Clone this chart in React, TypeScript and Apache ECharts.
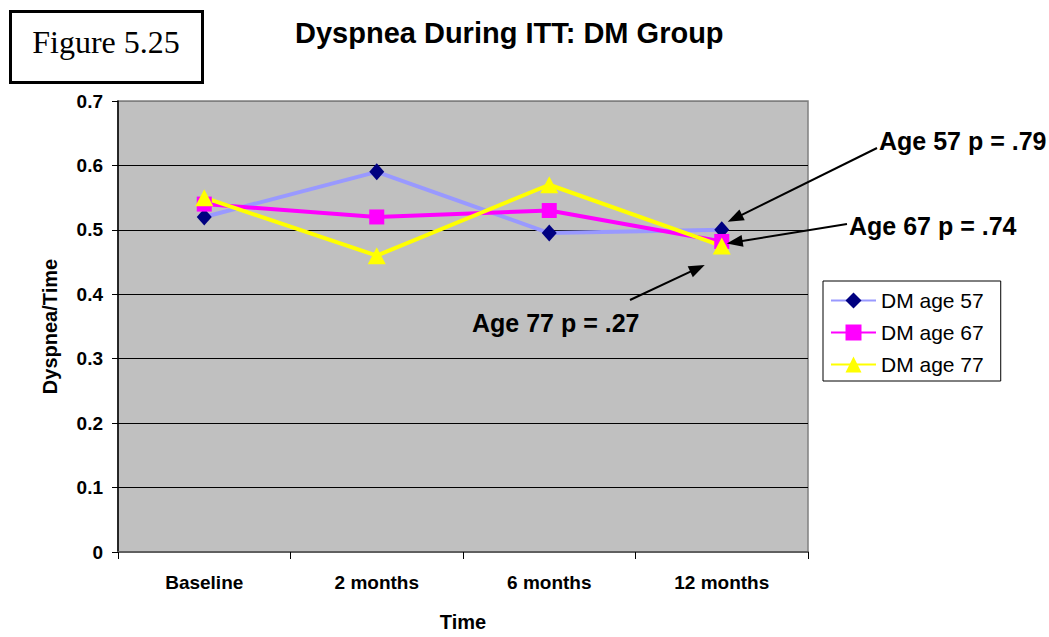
import React, { useEffect, useRef } from "react";
import * as echarts from "echarts";

const categories = ["Baseline", "2 months", "6 months", "12 months"];
const age57Values = [0.52, 0.59, 0.495, 0.5];
const age67Values = [0.54, 0.52, 0.53, 0.482];
const age77Values = [0.55, 0.46, 0.57, 0.475];
const seriesNames = ["DM age 57", "DM age 67", "DM age 77"];
const pValueLabels = ["Age 57 p = .79", "Age 67 p = .74", "Age 77 p = .27"];
const titleText = "Dyspnea During ITT: DM Group";
const figureLabel = "Figure 5.25";
const yAxisName = "Dyspnea/Time";
const xAxisName = "Time";
const yMin = 0;
const yMax = 0.7;
const yInterval = 0.1;

const SANS = "'Liberation Sans', Arial, sans-serif";
const SERIF = "'Liberation Serif', 'Times New Roman', serif";

function arrow(x1: number, y1: number, x2: number, y2: number) {
  const dx = x2 - x1;
  const dy = y2 - y1;
  const len = Math.hypot(dx, dy);
  const ux = dx / len;
  const uy = dy / len;
  const hl = 16;
  const hw = 6;
  const bx = x2 - ux * hl;
  const by = y2 - uy * hl;
  return [
    {
      type: "line",
      z: 100,
      shape: { x1, y1, x2: bx + ux * 2, y2: by + uy * 2 },
      style: { stroke: "#000", lineWidth: 2 },
    },
    {
      type: "polygon",
      z: 100,
      shape: {
        points: [
          [x2, y2],
          [bx - uy * hw, by + ux * hw],
          [bx + uy * hw, by - ux * hw],
        ],
      },
      style: { fill: "#000" },
    },
  ];
}

export default function App() {
  const ref = useRef<HTMLDivElement>(null);

  useEffect(() => {
    if (!ref.current) return;
    const chart = echarts.init(ref.current, null, { renderer: "svg" });

    const option: any = {
      animation: false,
      backgroundColor: "#ffffff",
      title: {
        text: titleText,
        left: 295,
        top: 18,
        padding: 0,
        textStyle: { fontFamily: SANS, fontSize: 29, fontWeight: "bold", color: "#000" },
      },
      grid: {
        left: 118,
        right: 241,
        top: 101,
        bottom: 79,
        show: true,
        backgroundColor: "#C0C0C0",
        borderColor: "#808080",
        borderWidth: 1.5,
        containLabel: false,
      },
      legend: {
        orient: "vertical",
        left: 823,
        top: 281,
        padding: [9, 17, 6, 7],
        itemGap: 11,
        itemWidth: 45,
        itemHeight: 20,
        backgroundColor: "#fff",
        borderColor: "#000",
        borderWidth: 1,
        borderRadius: 0,
        textStyle: { fontFamily: SANS, fontSize: 21, color: "#000" },
        data: seriesNames,
      },
      xAxis: {
        type: "category",
        data: categories,
        boundaryGap: true,
        name: xAxisName,
        nameLocation: "middle",
        nameGap: 60,
        nameTextStyle: { fontFamily: SANS, fontSize: 20, fontWeight: "bold", color: "#000" },
        axisLine: { lineStyle: { color: "#606060", width: 2 } },
        axisTick: { show: true, interval: 0, length: 7, lineStyle: { color: "#000", width: 1 } },
        axisLabel: { interval: 0, margin: 21, fontFamily: SANS, fontSize: 19, fontWeight: "bold", color: "#000" },
        splitLine: { show: false },
      },
      yAxis: {
        type: "value",
        min: yMin,
        max: yMax,
        interval: yInterval,
        name: yAxisName,
        nameLocation: "middle",
        nameGap: 58,
        nameTextStyle: { fontFamily: SANS, fontSize: 20, fontWeight: "bold", color: "#000" },
        axisLine: { show: true, lineStyle: { color: "#000", width: 1.5 } },
        axisTick: { show: true, length: 6, lineStyle: { color: "#000", width: 1 } },
        axisLabel: { margin: 15, fontFamily: SANS, fontSize: 19, fontWeight: "bold", color: "#000" },
        splitLine: {
          show: true,
          lineStyle: {
            color: ["#000", "#000", "#000", "#000", "#000", "#000", "#000", "#808080"],
            width: 1.2,
          },
        },
      },
      series: [
        {
          name: seriesNames[0],
          type: "line",
          data: age57Values,
          symbol: "diamond",
          symbolSize: [15, 17],
          lineStyle: { color: "#9999FF", width: 4 },
          itemStyle: { color: "#000080" },
          emphasis: { disabled: true },
        },
        {
          name: seriesNames[1],
          type: "line",
          data: age67Values,
          symbol: "rect",
          symbolSize: 15,
          lineStyle: { color: "#FF00FF", width: 4 },
          itemStyle: { color: "#FF00FF" },
          emphasis: { disabled: true },
        },
        {
          name: seriesNames[2],
          type: "line",
          data: age77Values,
          symbol: "triangle",
          symbolSize: [18, 17],
          lineStyle: { color: "#FFFF00", width: 4 },
          itemStyle: { color: "#FFFF00" },
          emphasis: { disabled: true },
        },
      ],
    };

    chart.setOption(option);

    const last = categories.length - 1;
    const p57 = chart.convertToPixel({ gridIndex: 0 }, [last, age57Values[last]]) as number[];
    const p67 = chart.convertToPixel({ gridIndex: 0 }, [last, age67Values[last]]) as number[];
    const p77 = chart.convertToPixel({ gridIndex: 0 }, [last, age77Values[last]]) as number[];

    const graphic: any[] = [
      {
        type: "rect",
        shape: { x: 10.5, y: 11.5, width: 192, height: 71 },
        style: { fill: "#fff", stroke: "#000", lineWidth: 3 },
      },
      {
        type: "text",
        x: 106,
        y: 42,
        style: {
          text: figureLabel,
          font: `32px ${SERIF}`,
          fill: "#000",
          align: "center",
          verticalAlign: "middle",
        },
      },
      {
        type: "text",
        x: 879,
        y: 141,
        z: 100,
        style: { text: pValueLabels[0], font: `bold 25px ${SANS}`, fill: "#000", align: "left", verticalAlign: "middle" },
      },
      {
        type: "text",
        x: 849,
        y: 226,
        z: 100,
        style: { text: pValueLabels[1], font: `bold 25px ${SANS}`, fill: "#000", align: "left", verticalAlign: "middle" },
      },
      {
        type: "text",
        x: 472,
        y: 323,
        z: 100,
        style: { text: pValueLabels[2], font: `bold 25px ${SANS}`, fill: "#000", align: "left", verticalAlign: "middle" },
      },
      ...arrow(877, 148, p57[0] + 6, p57[1] - 8),
      ...arrow(847, 224, p67[0] + 5, p67[1] + 2),
      ...arrow(630, 300, p77[0] - 17, p77[1] + 19),
    ];

    chart.setOption({ graphic });

    return () => {
      chart.dispose();
    };
  }, []);

  return (
    <div
      ref={ref}
      style={{ position: "absolute", left: 0, top: 0, width: 1049, height: 637, background: "#fff" }}
    />
  );
}
